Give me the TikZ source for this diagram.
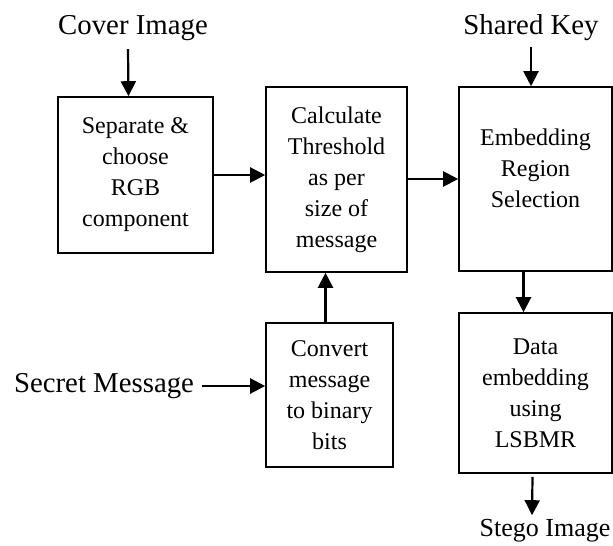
\documentclass[tikz,border=0pt]{standalone}
\usepackage{fontspec}
\setmainfont{Liberation Serif}
\usetikzlibrary{arrows.meta}

\begin{document}
\begin{tikzpicture}[x=0.5pt, y=-0.5pt,
    bloque/.style={draw=black, line width=0.8pt, inner sep=0pt, align=center,
        font=\fontsize{12}{15.5}\selectfont},
    etiqueta/.style={inner sep=0pt, font=\fontsize{14.4}{17}\selectfont},
    flecha/.style={line width=1.1pt, -{Triangle[length=7.5pt, width=7.5pt]}}]
    % Marco
    \useasboundingbox (0,0) rectangle (613,545);

    % Bloques
    \node[bloque, minimum width=77.5pt, minimum height=78pt] (separa) at (135.5,175)
        {Separate \&\\choose\\RGB\\component};
    \node[bloque, minimum width=70.5pt, minimum height=92.5pt] (umbral) at (336.5,179.5)
        {Calculate\\Threshold\\as per\\size of\\message};
    \node[bloque, minimum width=76.5pt, minimum height=92pt] (region) at (535.5,179)
        {Embedding\\Region\\Selection\\[-4.5pt]};
    \node[bloque, minimum width=63.5pt, minimum height=72pt] (convierte) at (329.5,395)
        {Convert\\message\\to binary\\bits};
    \node[bloque, minimum width=76.5pt, minimum height=80pt] (incrusta) at (535.5,393)
        {Data\\embedding\\using\\LSBMR};

    % Entradas / salida
    \node[etiqueta] (portada) at (133,28) {Cover Image};
    \node[etiqueta] (clave) at (531,28) {Shared Key};
    \node[etiqueta] (secreto) at (104,386) {Secret Message};
    \node[inner sep=0pt, font=\fontsize{13}{15}\selectfont] (estego) at (545,531) {Stego Image};

    % Flechas
    \draw[flecha] ([xshift=-2.5pt]portada.south) ++(0,8) -- ([xshift=-3.5pt]separa.north);
    \draw[flecha] (clave.south) ++(0,6) -- (clave.south |- region.north);
    \draw[flecha] (separa.east) -- (separa.east -| umbral.west);
    \draw[flecha] (umbral.east |- region.west) -- (region.west);
    \draw[flecha] ([xshift=-2pt]convierte.north) -- ([xshift=-2pt]convierte.north |- umbral.south);
    \draw[flecha] ([xshift=4pt]secreto.east) -- ([yshift=4.5pt]convierte.west);
    \draw[flecha] ([xshift=-6pt]region.south) -- ([xshift=-6pt]incrusta.north);
    \draw[flecha] ([xshift=-1.5pt]incrusta.south) ++(0,3) -- ([xshift=-6.5pt,yshift=2pt]estego.north);
\end{tikzpicture}
\end{document}
